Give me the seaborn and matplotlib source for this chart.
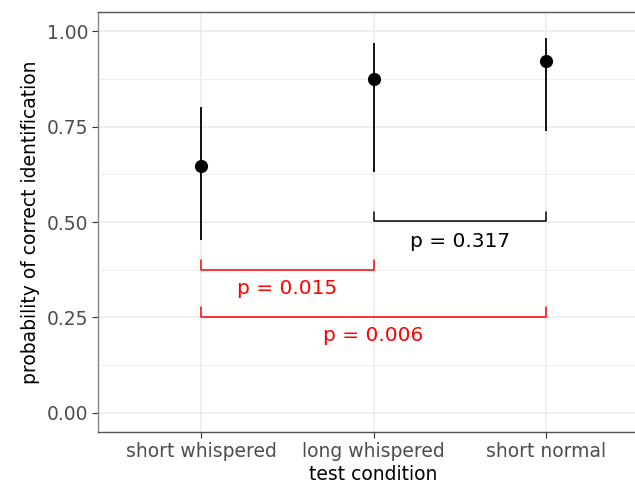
import matplotlib
matplotlib.use("Agg")
import matplotlib.pyplot as plt
import seaborn as sns
import pandas as pd
from matplotlib.ticker import MultipleLocator

conditions = ["short whispered", "long whispered", "short normal"]
prob = [0.647, 0.875, 0.922]
ci_low = [0.453, 0.632, 0.739]
ci_high = [0.802, 0.968, 0.981]

# comparison brackets
br_left = [1, 0, 0]
br_right = [2, 1, 2]
br_y = [0.503, 0.375, 0.251]
br_tick = [0.526, 0.400, 0.277]
br_label = ["p = 0.317", "p = 0.015", "p = 0.006"]
br_label_y = [0.450, 0.325, 0.204]
br_color = ["black", "red", "red"]

df = pd.DataFrame({"condition": conditions, "prob": prob,
                   "lo": ci_low, "hi": ci_high})

sns.set_theme(style="white")
plt.rcParams["font.family"] = ["DejaVu Sans"]

fig = plt.figure(figsize=(6.35, 4.83), dpi=100)
ax = fig.add_axes([98/635, 51/483, 551/635, 420/483])

ax.vlines(range(len(conditions)), df["lo"], df["hi"], color="black", lw=1.3, zorder=3)
sns.scatterplot(data=df, x="condition", y="prob", ax=ax, color="black",
                s=90, edgecolor="black", linewidth=0, zorder=4)

for l, r, y, t, lab, ly, c in zip(br_left, br_right, br_y, br_tick, br_label, br_label_y, br_color):
    ax.plot([l, l, r, r], [t, y, y, t], color=c, lw=1.1, zorder=2)
    ax.text((l + r) / 2, ly, lab, color=c, ha="center", va="center", fontsize=14.5)

ax.set_xlim(-0.6, 2.6)
ax.set_ylim(-0.05, 1.05)
ax.set_xticks(range(len(conditions)))
ax.set_xticklabels(conditions)
ax.yaxis.set_major_locator(MultipleLocator(0.25))
ax.yaxis.set_minor_locator(MultipleLocator(0.125))
ax.set_yticks([0, 0.25, 0.5, 0.75, 1.0])
ax.set_yticklabels(["0.00", "0.25", "0.50", "0.75", "1.00"])

ax.grid(True, which="major", color="#EBEBEB", lw=1.1, zorder=0)
ax.grid(True, which="minor", axis="y", color="#EBEBEB", lw=0.6, zorder=0)
ax.set_axisbelow(True)

ax.tick_params(axis="both", which="major", length=4, width=0.8, color="#333333",
               labelcolor="#4D4D4D", labelsize=13.5, pad=3, left=True, bottom=True)
ax.tick_params(axis="y", which="minor", length=0)

for s in ["top", "left", "bottom", "right"]:
    ax.spines[s].set_color("#555555")
    ax.spines[s].set_linewidth(1.0)
ax.spines["left"].set_color("#888888")

ax.set_xlabel("test condition", fontsize=13.5, color="black", labelpad=3)
ax.set_ylabel("probability of correct identification", fontsize=13.5, color="black", labelpad=5)

fig.savefig("out.png", dpi=100)
